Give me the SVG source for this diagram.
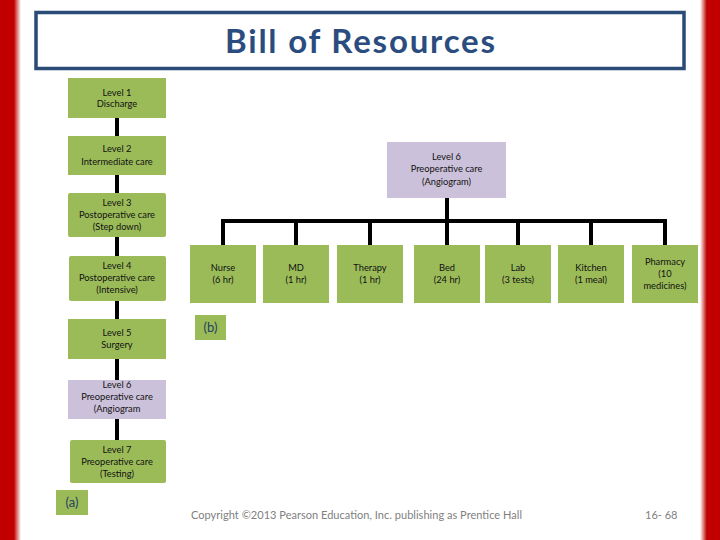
<svg xmlns="http://www.w3.org/2000/svg" width="720" height="540" viewBox="0 0 720 540">
<defs>
<linearGradient id="gl" x1="0" y1="0" x2="1" y2="0">
<stop offset="0" stop-color="#C00000"/>
<stop offset="0.66" stop-color="#C00000"/>
<stop offset="1" stop-color="#FFFFFF"/>
</linearGradient>
<linearGradient id="gr" x1="1" y1="0" x2="0" y2="0">
<stop offset="0" stop-color="#C00000"/>
<stop offset="0.66" stop-color="#C00000"/>
<stop offset="1" stop-color="#FFFFFF"/>
</linearGradient>
</defs>
<style>
.g{fill:#9BBB59}
.p{fill:#CCC1DA}
.t{font-family:Lato,"Liberation Sans",sans-serif;font-size:9.3px;fill:#111;text-anchor:middle}
.c{stroke:#000;stroke-width:4;fill:none}
.lab{font-family:Lato,"Liberation Sans",sans-serif;font-size:13px;fill:#244061;text-anchor:middle}
.foot{font-family:Lato,"Liberation Sans",sans-serif;font-size:11px;fill:#808080}
</style>
<rect width="720" height="540" fill="#fff"/>
<rect x="0" y="0" width="21" height="540" fill="url(#gl)"/>
<rect x="700" y="0" width="20" height="540" fill="url(#gr)"/>
<g id="title">
<rect x="36" y="12.5" width="648" height="56" fill="none" stroke="#2A4B75" stroke-width="3.5"/>
<text x="360" y="53" font-family="Lato,'Liberation Sans',sans-serif" font-size="33" font-weight="bold" fill="#2B4C7E" text-anchor="middle" textLength="270">Bill of Resources</text>
</g>
<g id="connectors">
<line class="c" x1="117" y1="118" x2="117" y2="136"/>
<line class="c" x1="117" y1="175" x2="117" y2="193"/>
<line class="c" x1="117" y1="237" x2="117" y2="256"/>
<line class="c" x1="117" y1="301" x2="117" y2="319"/>
<line class="c" x1="117" y1="359" x2="117" y2="380"/>
<line class="c" x1="117" y1="419" x2="117" y2="440"/>
<line class="c" x1="447" y1="198" x2="447" y2="245"/>
<path class="c" d="M223,245 V221 H665 V245"/>
<line class="c" x1="296" y1="221" x2="296" y2="245"/>
<line class="c" x1="370" y1="221" x2="370" y2="245"/>
<line class="c" x1="518" y1="221" x2="518" y2="245"/>
<line class="c" x1="591" y1="221" x2="591" y2="245"/>
</g>
<g id="level1"><rect class="g" x="68" y="78" width="98" height="40"/><text class="t" x="117" y="96">Level 1</text><text class="t" x="117" y="107">Discharge</text></g>
<g id="level2"><rect class="g" x="68" y="136" width="98" height="39"/><text class="t" x="117" y="152">Level 2</text><text class="t" x="117" y="165">Intermediate care</text></g>
<g id="level3"><rect class="g" x="68" y="193" width="98" height="44" rx="2"/><text class="t" x="117" y="206">Level 3</text><text class="t" x="117" y="218">Postoperative care</text><text class="t" x="117" y="230">(Step down)</text></g>
<g id="level4"><rect class="g" x="69" y="256" width="97" height="45" rx="2"/><text class="t" x="117" y="269">Level 4</text><text class="t" x="117" y="281">Postoperative care</text><text class="t" x="117" y="293">(Intensive)</text></g>
<g id="level5"><rect class="g" x="68" y="319" width="98" height="40"/><text class="t" x="117" y="336">Level 5</text><text class="t" x="117" y="348">Surgery</text></g>
<g id="level6a"><rect class="p" x="68" y="380" width="98" height="39"/><text class="t" x="117" y="388">Level 6</text><text class="t" x="117" y="400">Preoperative care</text><text class="t" x="117" y="412">(Angiogram</text></g>
<g id="level7"><rect class="g" x="70" y="440" width="96" height="43" rx="2"/><text class="t" x="117" y="453">Level 7</text><text class="t" x="117" y="465">Preoperative care</text><text class="t" x="117" y="477">(Testing)</text></g>
<g id="label-a"><rect class="g" x="56" y="490" width="32" height="25"/><text class="lab" x="72" y="507">(a)</text></g>
<g id="level6b"><rect class="p" x="387" y="142" width="119" height="56"/><text class="t" x="446.5" y="160">Level 6</text><text class="t" x="446.5" y="172">Preoperative care</text><text class="t" x="446.5" y="185">(Angiogram)</text></g>
<g id="nurse"><rect class="g" x="190" y="245" width="66" height="58"/><text class="t" x="223" y="271">Nurse</text><text class="t" x="223" y="283">(6 hr)</text></g>
<g id="md"><rect class="g" x="263" y="245" width="66" height="58"/><text class="t" x="296" y="271">MD</text><text class="t" x="296" y="283">(1 hr)</text></g>
<g id="therapy"><rect class="g" x="337" y="245" width="66" height="58"/><text class="t" x="370" y="271">Therapy</text><text class="t" x="370" y="283">(1 hr)</text></g>
<g id="bed"><rect class="g" x="414" y="245" width="66" height="58"/><text class="t" x="447" y="271">Bed</text><text class="t" x="447" y="283">(24 hr)</text></g>
<g id="lab"><rect class="g" x="485" y="245" width="66" height="58"/><text class="t" x="518" y="271">Lab</text><text class="t" x="518" y="283">(3 tests)</text></g>
<g id="kitchen"><rect class="g" x="558" y="245" width="66" height="58"/><text class="t" x="591" y="271">Kitchen</text><text class="t" x="591" y="283">(1 meal)</text></g>
<g id="pharmacy"><rect class="g" x="632" y="245" width="66" height="58"/><text class="t" x="665" y="265">Pharmacy</text><text class="t" x="665" y="277">(10</text><text class="t" x="665" y="289">medicines)</text></g>
<g id="label-b"><rect class="g" x="195" y="315" width="31" height="25"/><text class="lab" x="210.5" y="332">(b)</text></g>
<text class="foot" x="191" y="519" textLength="331">Copyright ©2013 Pearson Education, Inc. publishing as Prentice Hall</text>
<text class="foot" x="645" y="519">16- 68</text>
</svg>
